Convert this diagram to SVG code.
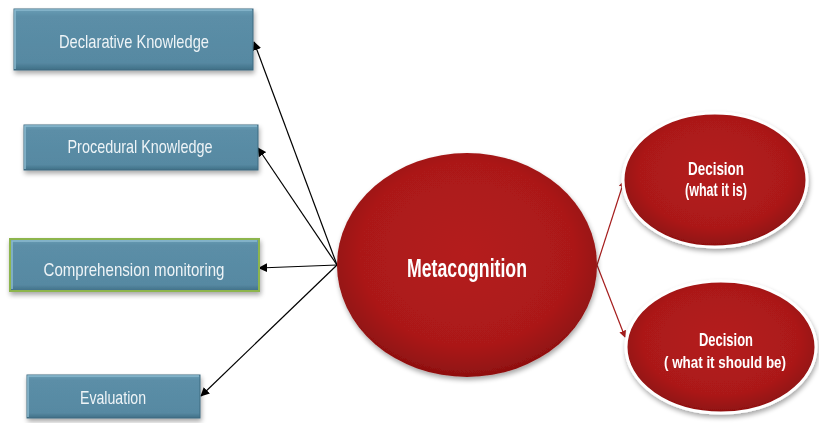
<svg xmlns="http://www.w3.org/2000/svg" width="819" height="423" viewBox="0 0 819 423">
  <defs>
    <linearGradient id="boxFill" x1="0" y1="0" x2="0" y2="1">
      <stop offset="0" stop-color="#6a9db5"/>
      <stop offset="0.12" stop-color="#5b8ea7"/>
      <stop offset="0.88" stop-color="#5789a2"/>
      <stop offset="1" stop-color="#3f6f86"/>
    </linearGradient>
    <radialGradient id="redFill" cx="0.5" cy="0.45" r="0.55">
      <stop offset="0" stop-color="#b41d1d"/>
      <stop offset="0.75" stop-color="#ab1919"/>
      <stop offset="1" stop-color="#8e1010"/>
    </radialGradient>
    <filter id="shadow" x="-10%" y="-10%" width="125%" height="130%">
      <feGaussianBlur in="SourceAlpha" stdDeviation="2.5"/>
      <feOffset dx="1" dy="3" result="b"/>
      <feComponentTransfer><feFuncA type="linear" slope="0.35"/></feComponentTransfer>
      <feMerge><feMergeNode/><feMergeNode in="SourceGraphic"/></feMerge>
    </filter>
    <marker id="arrowBlack" viewBox="0 0 10 10" refX="9" refY="5" markerWidth="9" markerHeight="9" markerUnits="userSpaceOnUse" orient="auto">
      <path d="M0,0 L10,5 L0,10 z" fill="#000"/>
    </marker>
    <marker id="arrowRed" viewBox="0 0 10 10" refX="9" refY="5" markerWidth="7" markerHeight="7" markerUnits="userSpaceOnUse" orient="auto">
      <path d="M0,0 L10,5 L0,10 z" fill="#a51c1c"/>
    </marker>
  </defs>
  <style>
    .box { fill: url(#boxFill); stroke: #3e6a80; stroke-width: 1; }
    .hl { fill: none; stroke: #8cbad0; stroke-width: 1.5; }
    .boxText { font-family: "Liberation Sans", Arial, sans-serif; font-size: 19px; fill: #eef4f7; text-anchor: middle; }
    .red { fill: url(#redFill); }
    .redText { font-family: "Liberation Sans", Arial, sans-serif; font-weight: bold; fill: #ffffff; text-anchor: middle; }
    .lnk { stroke: #000; stroke-width: 1.2; fill: none; marker-end: url(#arrowBlack); }
    .lnkRed { stroke: #a51c1c; stroke-width: 1.2; fill: none; marker-end: url(#arrowRed); }
  </style>

  <rect width="819" height="423" fill="#ffffff"/>

  <g id="connectors">
    <line class="lnk" x1="337" y1="265" x2="254" y2="42"/>
    <line class="lnk" x1="337" y1="265" x2="258" y2="148"/>
    <line class="lnk" x1="337" y1="265" x2="259" y2="268"/>
    <line class="lnk" x1="337" y1="265" x2="201" y2="396"/>
    <line class="lnkRed" x1="597" y1="265" x2="624" y2="181"/>
    <line class="lnkRed" x1="597" y1="265" x2="625" y2="337"/>
  </g>

  <g id="declarative" filter="url(#shadow)">
    <rect class="box" x="14" y="9" width="239" height="61"/>
    <path class="hl" d="M15,69 V10 H252"/>
    <text class="boxText" x="134" y="48" textLength="150" lengthAdjust="spacingAndGlyphs">Declarative Knowledge</text>
  </g>

  <g id="procedural" filter="url(#shadow)">
    <rect class="box" x="24" y="125" width="234" height="45"/>
    <path class="hl" d="M25,169 V126 H257"/>
    <text class="boxText" x="140" y="153" textLength="145" lengthAdjust="spacingAndGlyphs">Procedural Knowledge</text>
  </g>

  <g id="comprehension" filter="url(#shadow)">
    <rect class="box" x="10" y="239" width="249" height="52" style="stroke:#8db54e;stroke-width:2"/>
    <path class="hl" d="M12,289 V241 H257"/>
    <text class="boxText" x="134" y="276" textLength="181" lengthAdjust="spacingAndGlyphs">Comprehension monitoring</text>
  </g>

  <g id="evaluation" filter="url(#shadow)">
    <rect class="box" x="27" y="375" width="173" height="43"/>
    <path class="hl" d="M28,417 V376 H199"/>
    <text class="boxText" x="113" y="404" textLength="66" lengthAdjust="spacingAndGlyphs">Evaluation</text>
  </g>

  <g id="metacognition" filter="url(#shadow)">
    <ellipse class="red" cx="467" cy="265" rx="130" ry="112"/>
    <text class="redText" x="467" y="277" font-size="26" textLength="120" lengthAdjust="spacingAndGlyphs">Metacognition</text>
  </g>

  <g id="decisionIs" filter="url(#shadow)">
    <ellipse class="red" cx="715" cy="180" rx="92" ry="67" stroke="#ffffff" stroke-width="3"/>
    <text class="redText" x="716" y="175" font-size="19" textLength="56" lengthAdjust="spacingAndGlyphs">Decision</text>
    <text class="redText" x="716" y="196" font-size="19" textLength="62" lengthAdjust="spacingAndGlyphs">(what it is)</text>
  </g>

  <g id="decisionShould" filter="url(#shadow)">
    <ellipse class="red" cx="721" cy="347" rx="95" ry="66" stroke="#ffffff" stroke-width="3"/>
    <text class="redText" x="726" y="346" font-size="19" textLength="54" lengthAdjust="spacingAndGlyphs">Decision</text>
    <text class="redText" x="725" y="368" font-size="17" textLength="122" lengthAdjust="spacingAndGlyphs">( what it should be)</text>
  </g>
</svg>
